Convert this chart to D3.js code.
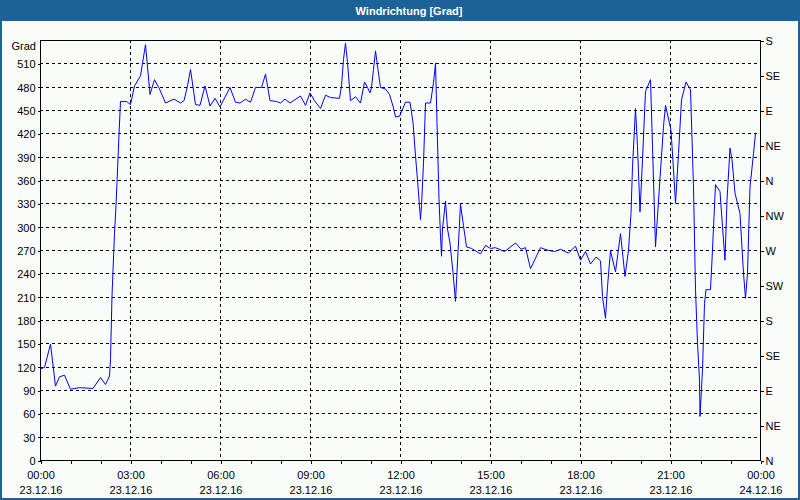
<!DOCTYPE html>
<html><head><meta charset="utf-8">
<script src="https://cdn.jsdelivr.net/npm/d3@7"></script>
<style>
html,body{margin:0;padding:0;background:#fff;}
svg{display:block;}
</style></head>
<body>
<svg id="c" width="800" height="500"></svg>
<script>
// Data: minutes since 23.12.16 00:00, wind direction in degrees
const minutes = [0,9,21,31,39,49,61,79,106,121,131,139,141,144,149,152,154,156,158,161,173,181,189,201,211,220,229,239,251,268,281,
288,295,301,311,320,330,340,350,360,380,391,400,411,421,431,443,451,460,473,481,490,500,521,531,540,549,561,571,581,
599,603,607,611,615,621,631,641,649,655,660,663,667,671,676,681,691,699,706,711,719,731,740,746,751,756,761,763,767,771,781,787,791,794,798,801,803,805,811,815,820,826,831,836,841,847,853,863,
881,891,901,911,929,951,962,971,981,1001,1014,1029,1041,1057,1071,1081,1091,1101,1112,1121,1125,1131,1135,1141,1151,
1161,1170,1177,1182,1185,1191,1195,1200,1205,1211,1221,1225,1231,1238,1247,1251,1262,1267,1271,1277,1283,1292,1301,1307,1311,1315,1319,1320,1325,1329,1332,1341,1344,1348,1351,1360,1365,1370,1374,1380,1384,1390,1400,1407,1411,1415,1420,1427,1431];
const degrees = [117,119,149,95,107,109,91,93,92,106,97,108,129,211,292,327,357,387,419,461,461,457,481,494,534,470,489,477,459,464,459,
462,481,502,457,456,481,455,465,454,479,460,459,464,460,479,479,496,462,461,459,464,459,468,456,472,462,452,469,466,
465,481,515,536,511,462,467,459,486,479,472,479,502,526,502,479,477,470,455,441,442,460,460,434,391,352,309,327,382,459,459,485,510,434,335,288,262,297,333,297,279,241,204,267,329,301,274,272,
265,276,272,273,268,279,271,273,246,273,270,268,271,266,275,257,268,252,261,256,210,182,223,269,242,
291,236,270,317,377,452,403,319,386,474,489,403,274,343,429,456,424,373,330,394,463,486,476,351,219,150,103,56,116,201,219,219,257,313,354,345,300,257,334,401,386,343,317,240,208,240,351,394,420];

const yTicks = d3.range(0, 511, 30);
const rightTicks = d3.range(0, 541, 45);
const rightLabels = ["N","NE","E","SE","S","SW","W","NW","N","NE","E","SE","S"];
const xTickMinutes = d3.range(0, 1441, 180);
const xTimeLabels = ["00:00","03:00","06:00","09:00","12:00","15:00","18:00","21:00","00:00"];
const xDateLabels = ["23.12.16","23.12.16","23.12.16","23.12.16","23.12.16","23.12.16","23.12.16","23.12.16","24.12.16"];
const title = "Windrichtung [Grad]";
const unitLabel = "Grad";

const svg = d3.select("#c");
const W = 800, H = 500;
const blue = "#1d6296";
const font = "'Liberation Sans', Arial, sans-serif";

svg.append("rect").attr("x",0).attr("y",0).attr("width",W).attr("height",H).attr("fill",blue);
svg.append("rect").attr("x",2).attr("y",21).attr("width",W-4).attr("height",H-23).attr("fill","#fafcfa");
svg.append("text").attr("x",409).attr("y",15).attr("text-anchor","middle")
  .attr("font-family",font).attr("font-size",11).attr("font-weight","bold").attr("fill","#fff").text(title);

const L=40, R=760, T=40, B=460;
const x = d3.scaleLinear().domain([0,1440]).range([L,R]);
const y = d3.scaleLinear().domain([0,540]).range([B,T]);

const g = svg.append("g");
// horizontal grid
g.selectAll("line.hg").data(yTicks.filter(v=>v>0)).enter().append("line")
  .attr("x1",L).attr("x2",R).attr("y1",d=>Math.round(y(d))+0.5).attr("y2",d=>Math.round(y(d))+0.5)
  .attr("stroke","#000").attr("stroke-dasharray","3,3").attr("shape-rendering","crispEdges");
// vertical grid
g.selectAll("line.vg").data(xTickMinutes.filter(v=>v>0&&v<1440)).enter().append("line")
  .attr("x1",d=>Math.round(x(d))+0.5).attr("x2",d=>Math.round(x(d))+0.5).attr("y1",T).attr("y2",B)
  .attr("stroke","#000").attr("stroke-dasharray","3,3").attr("shape-rendering","crispEdges");

// line
const line = d3.line().x((d,i)=>x(minutes[i])).y(d=>y(d));
g.append("path").attr("d", line(degrees)).attr("fill","none").attr("stroke","#0000ff").attr("stroke-width",1);

// frame
g.append("rect").attr("x",L+0.5).attr("y",T+0.5).attr("width",R-L).attr("height",B-T)
  .attr("fill","none").attr("stroke","#000").attr("shape-rendering","crispEdges");

// left axis
const yAxis = d3.axisLeft(y).tickValues(yTicks).tickSize(3).tickPadding(2);
const ga = svg.append("g").attr("transform",`translate(${L+0.5},0.5)`).call(yAxis);
ga.select(".domain").remove();
ga.selectAll("text").attr("font-family",font).attr("font-size",11).attr("fill","#000").attr("dy","0.35em");
ga.selectAll("line").attr("shape-rendering","crispEdges");
svg.append("text").attr("x",36).attr("y",y(540)+10).attr("text-anchor","end")
  .attr("font-family",font).attr("font-size",11).text(unitLabel);

// right axis
const yR = d3.axisRight(y).tickValues(rightTicks).tickSize(3).tickPadding(2).tickFormat((d,i)=>rightLabels[i]);
const gr = svg.append("g").attr("transform",`translate(${R+0.5},0.5)`).call(yR);
gr.select(".domain").remove();
gr.selectAll("text").attr("font-family",font).attr("font-size",11).attr("fill","#000").attr("dy","0.35em");
gr.selectAll("line").attr("shape-rendering","crispEdges");

// bottom axis
const xAxis = d3.axisBottom(x).tickValues(d3.range(0,1441,60)).tickSize(3).tickFormat("");
const gb = svg.append("g").attr("transform",`translate(0.5,${B+0.5})`).call(xAxis);
gb.select(".domain").remove();
gb.selectAll("line").attr("shape-rendering","crispEdges");
svg.selectAll("text.xt").data(xTickMinutes).enter().append("text")
  .attr("x",d=>x(d)+1).attr("y",479).attr("text-anchor","middle")
  .attr("font-family",font).attr("font-size",11).text((d,i)=>xTimeLabels[i]);
svg.selectAll("text.xd").data(xTickMinutes).enter().append("text")
  .attr("x",d=>x(d)+1).attr("y",494).attr("text-anchor","middle")
  .attr("font-family",font).attr("font-size",11).text((d,i)=>xDateLabels[i]);
</script>
</body></html>
